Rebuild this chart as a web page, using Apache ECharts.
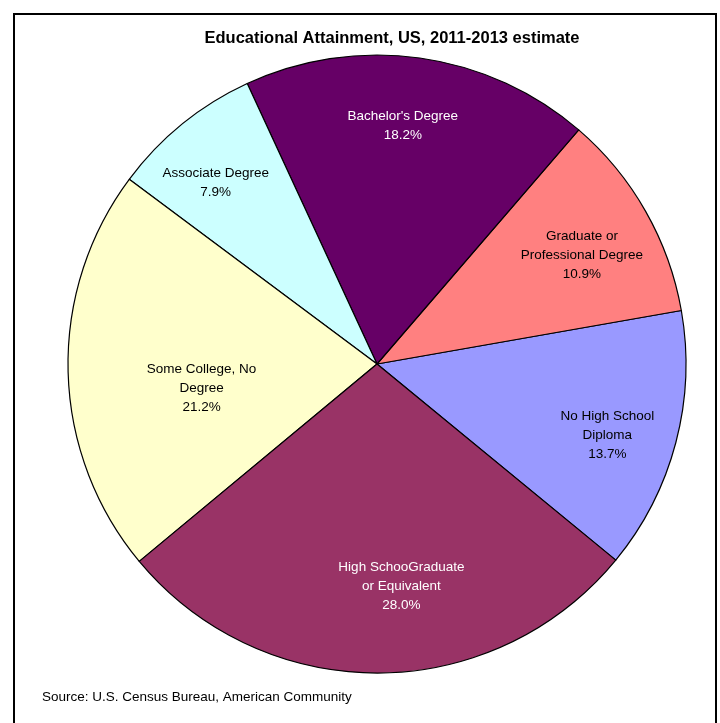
<!DOCTYPE html>
<html>
<head>
<meta charset="utf-8">
<script src="https://cdn.jsdelivr.net/npm/echarts@6/dist/echarts.min.js"></script>
<style>
html,body{margin:0;padding:0;background:#fff;}
#chart{width:720px;height:723px;}
</style>
</head>
<body>
<div id="chart"></div>
<script>
// Data (counter-clockwise order starting at the lower right)
const categories = [
  "No High School\nDiploma",
  "Graduate or\nProfessional Degree",
  "Bachelor's Degree",
  "Associate Degree",
  "Some College, No\nDegree",
  "High SchooGraduate\nor Equivalent"
];
const shares = [13.7, 10.9, 18.2, 7.9, 21.2, 28.0];
const sliceColors = ['#9999FF', '#FF8080', '#660066', '#CCFFFF', '#FFFFCC', '#993366'];
const labelColors = ['#000', '#000', '#fff', '#000', '#000', '#fff'];
// label nudges from the default inside position
const labelNudge = [[78, 31], [68, -31], [4, -82], [-62, -59], [-18, 20], [24, 65]];

const titleText = 'Educational Attainment, US, 2011-2013 estimate';
const sourceText = 'Source: U.S. Census Bureau, American Community';

const chart = echarts.init(document.getElementById('chart'), null, {renderer: 'canvas'});
const font = '"Liberation Sans", Arial, sans-serif';

chart.setOption({
  animation: false,
  backgroundColor: '#fff',
  title: {
    text: titleText,
    left: 387, top: 25,
    textAlign: 'center',
    textStyle: {fontFamily: font, fontSize: 16.5, fontWeight: 'bold', color: '#000'}
  },
  graphic: [
    {type: 'rect', shape: {x: 14, y: 14, width: 702, height: 730},
     style: {fill: 'none', stroke: '#000', lineWidth: 2}, z: 100},
    {type: 'text', left: 42, top: 690,
     style: {text: sourceText, font: '13.5px ' + font, fill: '#000'}}
  ],
  series: [{
    type: 'pie',
    center: [377, 364],
    radius: [0, 309],
    startAngle: 320.6,
    clockwise: false,
    avoidLabelOverlap: false,
    itemStyle: {borderColor: '#000', borderWidth: 1.2},
    label: {
      show: true,
      position: 'inside',
      formatter: p => p.name + '\n' + p.value.toFixed(1) + '%',
      fontFamily: font,
      fontSize: 13.5,
      lineHeight: 19,
      align: 'center'
    },
    labelLine: {show: false},
    emphasis: {disabled: true},
    labelLayout: p => ({dx: labelNudge[p.dataIndex][0], dy: labelNudge[p.dataIndex][1]}),
    data: categories.map((c, i) => ({
      name: c,
      value: shares[i],
      itemStyle: {color: sliceColors[i]},
      label: {color: labelColors[i]}
    }))
  }]
});
</script>
</body>
</html>
